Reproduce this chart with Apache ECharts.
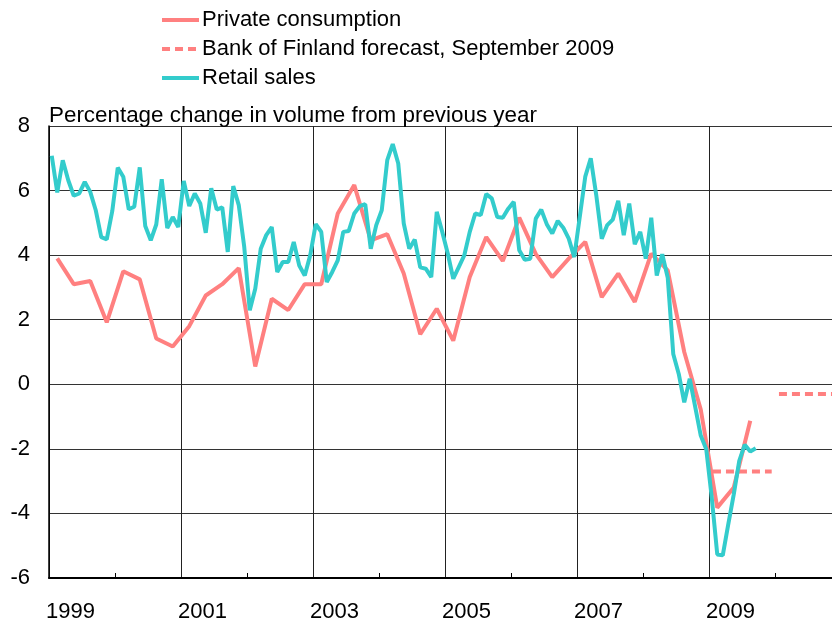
<!DOCTYPE html>
<html>
<head>
<meta charset="utf-8">
<script src="https://cdn.jsdelivr.net/npm/echarts@6/dist/echarts.min.js"></script>
<style>
  html, body { margin: 0; padding: 0; background: #fff; }
  #chart { width: 832px; height: 626px; }
</style>
</head>
<body>
<div id="chart"></div>
<script>
// monthly retail sales, Jan 1999 ..
var retailStart = 1999
var retailSales = [
  7.08, 5.94, 6.94, 6.32, 5.84, 5.91, 6.27, 5.96, 5.39, 4.56, 4.49, 5.36,
  6.71, 6.43, 5.42, 5.5, 6.72, 4.9, 4.46, 4.95, 6.35, 4.84, 5.18, 4.87,
  6.3, 5.52, 5.91, 5.6, 4.69, 6.07, 5.41, 5.48, 4.1, 6.14, 5.55, 4.25,
  2.29, 2.96, 4.2, 4.62, 4.87, 3.48, 3.79, 3.79, 4.41, 3.68, 3.37, 4.0,
  4.96, 4.72, 3.17, 3.48, 3.84, 4.72, 4.75, 5.29, 5.52, 5.58, 4.2, 4.93,
  5.39, 6.94, 7.44, 6.84, 4.98, 4.2, 4.48, 3.62, 3.58, 3.32, 5.34, 4.72,
  4.05, 3.27, 3.63, 3.99, 4.72, 5.29, 5.24, 5.89, 5.76, 5.18, 5.16, 5.44,
  5.65, 4.15, 3.86, 3.89, 5.13, 5.41, 4.96, 4.67, 5.06, 4.85, 4.51, 3.94,
  5.18, 6.43, 7.0, 5.86, 4.51, 4.93, 5.1, 5.68, 4.62, 5.6, 4.34, 4.72,
  3.89, 5.16, 3.37, 4.03, 3.3, 0.94, 0.32, -0.56, 0.17, -0.71, -1.59, -2.01,
  -3.51, -5.27, -5.3, -4.34, -3.41, -2.37, -1.87, -2.08, -1.98
]

// quarterly private consumption, 1999Q1 ..
var consumptionStart = 1999
var privateConsumption = [
  3.9, 3.1, 3.2, 1.92,
  3.5, 3.25, 1.42, 1.17,
  1.8, 2.75, 3.1, 3.6,
  0.55, 2.65, 2.3, 3.1,
  3.1, 5.29, 6.17, 4.46,
  4.65, 3.43, 1.55, 2.34,
  1.35, 3.32, 4.56, 3.82,
  5.16, 4.04, 3.32, 3.89,
  4.41, 2.7, 3.43, 2.55,
  4.05, 3.53, 1.0, -0.78,
  -3.82, -3.2, -1.13
]

// annual forecast
var forecastYears = [2009, 2010]
var forecastValues = [-2.7, -0.3]

var yearLabels = ['1999', '2001', '2003', '2005', '2007', '2009']

var red = '#FF8080'
var teal = '#33CCCC'
var font = 'Liberation Sans, Arial, sans-serif'

var retailData = retailSales.map(function (v, i) {
  return [retailStart + (i + 0.5) / 12, v]
})
var consumptionData = privateConsumption.map(function (v, i) {
  return [consumptionStart + (i + 0.5) / 4, v]
})
var forecastData = []
forecastYears.forEach(function (y, i) {
  forecastData.push([y + 0.06, forecastValues[i]])
  forecastData.push([y + 0.95, forecastValues[i]])
  forecastData.push([y + 1, '-'])
})

var chart = echarts.init(document.getElementById('chart'))
chart.setOption({
  animation: false,
  title: {
    text: 'Percentage change in volume from previous year',
    left: 49,
    top: 105,
    padding: 0,
    textStyle: { fontFamily: font, fontSize: 22.4, fontWeight: 'normal', color: '#000' }
  },
  legend: {
    orient: 'vertical',
    left: 160,
    top: 9,
    padding: 0,
    itemWidth: 37,
    itemHeight: 4,
    itemGap: 7,
    selectedMode: false,
    itemStyle: { opacity: 0 },
    lineStyle: { width: 4 },
    textStyle: { fontFamily: font, fontSize: 22, color: '#000', padding: [0, 0, 0, -2] },
    data: ['Private consumption', 'Bank of Finland forecast, September 2009', 'Retail sales']
  },
  grid: {
    left: 49,
    width: 792,
    top: 126,
    bottom: 48,
    outerBoundsMode: 'none'
  },
  xAxis: {
    type: 'value',
    min: 1999,
    max: 2011,
    interval: 2,
    axisLine: { onZero: false, lineStyle: { color: '#000', width: 2 } },
    axisTick: { show: false, inside: true },
    minorTick: { show: true, splitNumber: 2, length: 5, lineStyle: { color: '#000', width: 1 } },
    splitLine: { show: true, lineStyle: { color: '#222', width: 1 } },
    axisLabel: {
      align: 'left',
      margin: 23,
      fontFamily: font,
      fontSize: 22,
      color: '#000',
      padding: [0, 0, 0, -3],
      formatter: function (v) {
        var s = String(Math.round(v))
        return yearLabels.indexOf(s) >= 0 ? s : ''
      }
    }
  },
  yAxis: {
    type: 'value',
    min: -6,
    max: 8,
    interval: 2,
    axisLine: { show: true, lineStyle: { color: '#000', width: 1.5 } },
    axisTick: { show: false },
    splitLine: { lineStyle: { color: '#333', width: 1 } },
    axisLabel: { margin: 19, fontFamily: font, fontSize: 22, color: '#000' }
  },
  series: [
    {
      name: 'Private consumption',
      type: 'line',
      data: consumptionData,
      symbol: 'none',
      color: red,
      lineStyle: { color: red, width: 4 }
    },
    {
      name: 'Bank of Finland forecast, September 2009',
      type: 'line',
      data: forecastData,
      symbol: 'none',
      color: red,
      connectNulls: false,
      lineStyle: { color: red, width: 4, type: [8, 5] }
    },
    {
      name: 'Retail sales',
      type: 'line',
      data: retailData,
      symbol: 'none',
      color: teal,
      lineStyle: { color: teal, width: 4 }
    }
  ]
})
</script>
</body>
</html>
